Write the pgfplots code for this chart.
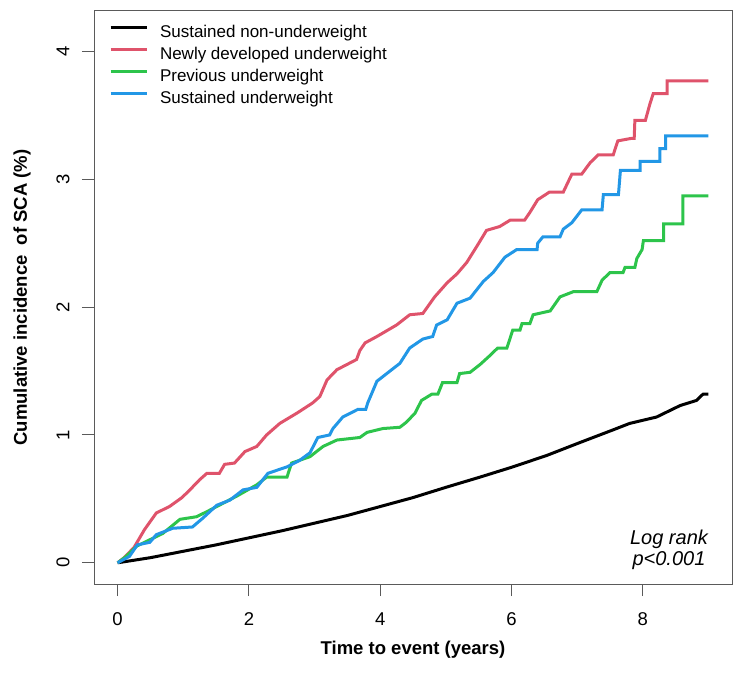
\documentclass[border=0pt]{standalone}
\usepackage{fontspec}
\setmainfont{Liberation Sans}
\usepackage{pgfplots}
\pgfplotsset{compat=1.18}

\definecolor{cNon}{HTML}{000000}
\definecolor{cNew}{HTML}{DF536B}
\definecolor{cPrev}{HTML}{2DC44B}
\definecolor{cSus}{HTML}{2297E6}
\definecolor{frame}{HTML}{5A5A5A}

\begin{document}
\begin{tikzpicture}
\begin{axis}[
    scale only axis,
    width=638pt, height=573pt,
    xmin=-0.36, xmax=9.36,
    ymin=-0.166, ymax=4.316,
    xtick={0,2,4,6,8},
    ytick={0,1,2,3,4},
    xtick pos=bottom, ytick pos=left,
    tick align=outside,
    major tick length=12pt,
    axis line style={frame, line width=1pt},
    tick style={frame, line width=1pt},
    /pgf/number format/assume math mode=true,
    ticklabel style={font=\fontsize{18.5}{20}\selectfont},
    yticklabel style={rotate=90, anchor=south},
    xticklabel shift=13pt,
    yticklabel shift=9pt,
    xlabel={Time to event (years)},
    ylabel={Cumulative incidence\ \ of SCA (\%)},
    label style={font=\fontsize{18.5}{20}\selectfont\bfseries},
    xlabel style={at={(rel axis cs:0.5,-0.1152)}, anchor=center},
    ylabel style={at={(rel axis cs:-0.1129,0.5)}, anchor=center},
    legend style={at={(rel axis cs:0,1)}, anchor=north west,
        xshift=15pt, yshift=-14.5pt, draw=none, fill=none,
        inner sep=0pt, outer sep=0pt,
        font=\fontsize{17}{17}\selectfont,
        row sep=5.5pt, column sep=0pt,
        nodes={inner sep=0pt, text height=12.5pt, text depth=4pt},
        cells={anchor=west}},
    legend image code/.code={
        \draw[#1, line width=3pt] (0pt,6pt) -- (36pt,6pt);
        \path (48pt,0pt);},
    every axis plot/.append style={line width=3pt, line join=miter, sharp plot},
    clip=true,
]
\coordinate (bl) at (rel axis cs:0,0);
\coordinate (tr) at (rel axis cs:1,1);

% sustained non-underweight
\addplot[cNon, line join=round] coordinates {
(0,0) (0.5,0.04) (1,0.09) (1.5,0.14) (2,0.195) (2.5,0.25) (3,0.31)
(3.5,0.37) (4,0.44) (4.5,0.51) (5,0.59) (5.52,0.67) (6.02,0.75)
(6.54,0.84) (7.04,0.94) (7.55,1.04) (7.80,1.09) (8.21,1.14)
(8.57,1.23) (8.82,1.27) (8.92,1.32) (9.0,1.32)
};
\addlegendentry{Sustained non-underweight}

% newly developed underweight
\addplot[cNew] coordinates {
(0,0) (0.10,0.04) (0.25,0.12) (0.41,0.26) (0.59,0.39) (0.79,0.44)
(0.98,0.51) (1.10,0.57) (1.25,0.65) (1.36,0.70) (1.55,0.70) (1.63,0.77)
(1.78,0.78) (1.94,0.87) (2.12,0.91) (2.27,1.00) (2.47,1.09) (2.73,1.17)
(2.97,1.25) (3.08,1.30) (3.19,1.43) (3.34,1.51) (3.64,1.59) (3.69,1.66)
(3.77,1.72) (3.95,1.77) (4.25,1.86) (4.45,1.94) (4.65,1.95) (4.83,2.08)
(5.02,2.19) (5.17,2.26) (5.32,2.35) (5.49,2.49) (5.62,2.60) (5.82,2.63)
(5.98,2.68) (6.20,2.68) (6.28,2.74) (6.40,2.84) (6.58,2.90) (6.79,2.90)
(6.92,3.04) (7.07,3.04) (7.20,3.13) (7.32,3.19) (7.55,3.19) (7.62,3.30)
(7.83,3.32) (7.87,3.32) (7.88,3.46) (8.04,3.46) (8.11,3.59) (8.16,3.67)
(8.37,3.67) (8.37,3.77) (9.00,3.77)
};
\addlegendentry{Newly developed underweight}

% previous underweight
\addplot[cPrev] coordinates {
(0,0) (0.13,0.05) (0.29,0.13) (0.49,0.18) (0.69,0.23) (0.95,0.34)
(1.20,0.36) (1.36,0.40) (1.51,0.44) (1.81,0.52) (2.12,0.61) (2.27,0.67)
(2.58,0.67) (2.65,0.78) (2.93,0.83) (3.13,0.91) (3.34,0.96) (3.69,0.98)
(3.80,1.02) (4.04,1.05) (4.30,1.06) (4.40,1.10) (4.53,1.17) (4.63,1.27)
(4.79,1.32) (4.88,1.32) (4.95,1.41) (5.17,1.41) (5.21,1.48) (5.37,1.49)
(5.52,1.55) (5.67,1.62) (5.79,1.68) (5.93,1.68) (6.02,1.82) (6.13,1.82)
(6.16,1.87) (6.28,1.87) (6.33,1.94) (6.59,1.97) (6.74,2.08) (6.94,2.12)
(7.30,2.12) (7.38,2.21) (7.50,2.27) (7.70,2.27) (7.73,2.31) (7.88,2.31)
(7.91,2.38) (7.99,2.45) (8.01,2.52) (8.32,2.52) (8.32,2.65) (8.61,2.65)
(8.61,2.87) (9.00,2.87)
};
\addlegendentry{Previous underweight}

% sustained underweight
\addplot[cSus] coordinates {
(0,0) (0.18,0.05) (0.30,0.14) (0.49,0.16) (0.59,0.22) (0.84,0.27)
(1.14,0.28) (1.30,0.35) (1.51,0.45) (1.71,0.49) (1.91,0.57) (2.12,0.59)
(2.29,0.70) (2.58,0.75) (2.77,0.80) (2.93,0.86) (3.05,0.98) (3.23,1.00)
(3.28,1.05) (3.43,1.14) (3.66,1.20) (3.78,1.20) (3.81,1.25) (3.95,1.42)
(4.10,1.48) (4.30,1.56) (4.45,1.68) (4.65,1.75) (4.80,1.77) (4.86,1.86)
(5.02,1.90) (5.17,2.03) (5.37,2.07) (5.57,2.20) (5.72,2.27) (5.90,2.39)
(6.08,2.45) (6.39,2.45) (6.40,2.50) (6.48,2.55) (6.74,2.55) (6.79,2.61)
(6.92,2.66) (7.07,2.76) (7.38,2.76) (7.40,2.88) (7.63,2.88) (7.66,3.07)
(7.96,3.07) (7.96,3.14) (8.26,3.14) (8.26,3.24) (8.35,3.24) (8.35,3.34)
(9.00,3.34)
};
\addlegendentry{Sustained underweight}

\node[font=\itshape\fontsize{20}{21}\selectfont, align=center]
    at (axis cs:8.40,0.105) {Log rank\\p<0.001};
\end{axis}
\pgfresetboundingbox
\path ([xshift=-94pt,yshift=-90pt]bl) rectangle ([xshift=12pt,yshift=11pt]tr);
\end{tikzpicture}
\end{document}
